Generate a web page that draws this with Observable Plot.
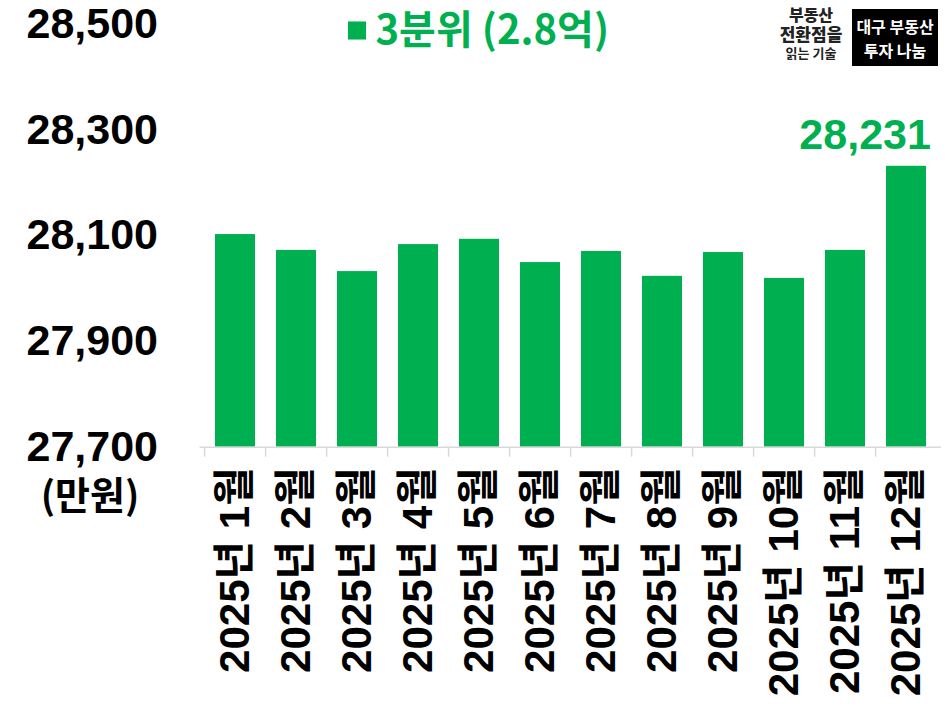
<!DOCTYPE html>
<html>
<head>
<meta charset="utf-8">
<script src="https://cdn.jsdelivr.net/npm/d3@7"></script>
<script src="https://cdn.jsdelivr.net/npm/@observablehq/plot@0.6"></script>
<style>
  html, body { margin: 0; padding: 0; background: #fff; }
  #wrap { position: relative; width: 951px; height: 712px; }
  #logo1 { position: absolute; left: 766px; top: 5px; width: 90px; text-align: center;
           font-family: "Noto Sans CJK KR", sans-serif; font-weight: 900; color: #222; }
  #logo1 div { height: 19px; line-height: 19px; white-space: nowrap; }
  #logo2 { position: absolute; left: 852px; top: 9px; width: 86px; height: 57px; background: #000; color: #fff;
           font-family: "Noto Sans CJK KR", sans-serif; font-weight: 700; font-size: 16px; text-align: center;
           display: flex; flex-direction: column; justify-content: center; }
  #logo2 div { height: 24px; line-height: 24px; white-space: nowrap; }
</style>
</head>
<body>
<div id="wrap"></div>
<script>
const months = ["2025년 1월","2025년 2월","2025년 3월","2025년 4월","2025년 5월","2025년 6월",
                "2025년 7월","2025년 8월","2025년 9월","2025년 10월","2025년 11월","2025년 12월"];
const values = [28102, 28072, 28032, 28083, 28093, 28049, 28070, 28023, 28068, 28019, 28072, 28231];
const yTicks = [27700, 27900, 28100, 28300, 28500];
const seriesName = "3분위 (2.8억)";
const unitLabel = "(만원)";
const green = "#00b050";

const data = months.map((m, i) => ({month: m, value: values[i]}));
const last = [data[data.length - 1]];

const W = 951, H = 712;
const mL = 199.5, mR = 10, mT = 23.5, mB = 265.3;
const step = (W - mL - mR) / months.length;
const fmt = d3.format(",");
const font = '"Liberation Sans", "Noto Sans CJK KR", sans-serif';
const cjk = '"Noto Sans CJK KR", sans-serif';

const chart = Plot.plot({
  width: W, height: H,
  marginLeft: mL, marginRight: mR, marginTop: mT, marginBottom: mB,
  style: {fontFamily: font, background: "#fff", color: "#000", overflow: "visible"},
  x: {domain: months, paddingInner: 0.34, paddingOuter: 0.17, label: null},
  y: {domain: [yTicks[0], yTicks[yTicks.length - 1]], label: null},
  marks: [
    Plot.barY(data, {x: "month", y1: yTicks[0], y2: "value", fill: green}),
    Plot.ruleY([yTicks[0]], {stroke: "#d9d9d9", strokeWidth: 1.5}),
    Plot.ruleX(months, {x: d => d, y1: yTicks[0], y2: yTicks[0], dx: -step / 2, insetBottom: -10, stroke: "#d9d9d9", strokeWidth: 1.5}),
    Plot.axisX({tickSize: 0, tickPadding: 20, tickRotate: -90, fontSize: 42, fontWeight: "bold", fill: "#000", label: null}),
    Plot.axisY({ticks: yTicks, tickFormat: fmt, tickSize: 0, tickPadding: 42, fontSize: 43, fontWeight: "bold", fill: "#000", label: null}),
    Plot.text(last, {x: "month", y: "value", text: d => fmt(d.value), textAnchor: "end", lineAnchor: "bottom",
                     dx: step * 0.33 + 4, dy: -17, fill: green, fontSize: 43, fontWeight: "bold"}),
    Plot.text([unitLabel], {frameAnchor: "bottom-left", textAnchor: "middle", lineAnchor: "bottom", dx: -110, dy: 62, fontSize: 38, fontWeight: "bold",
                            fill: "#000", fontFamily: cjk}),
    // legend (series swatch + name) overlaid at top
    Plot.dot([seriesName], {frameAnchor: "top-left", dx: 356.5 - mL, dy: 30 - mT, symbol: "square", r: 10.2, fill: green, stroke: null}),
    Plot.text([seriesName], {frameAnchor: "top-left", textAnchor: "start", lineAnchor: "bottom", dx: 375 - mL, dy: 43 - mT,
                             fontSize: 40, fontWeight: "bold", fill: green, fontFamily: cjk})
  ]
});

const wrap = document.getElementById("wrap");
wrap.appendChild(chart);

const logo1 = document.createElement("div");
logo1.id = "logo1";
logo1.innerHTML = `<div style="font-size:16px">부동산</div><div style="font-size:17px">전환점을</div><div style="font-size:13px;font-weight:700">읽는 기술</div>`;
wrap.appendChild(logo1);

const logo2 = document.createElement("div");
logo2.id = "logo2";
logo2.innerHTML = `<div>대구 부동산</div><div>투자 나눔</div>`;
wrap.appendChild(logo2);
</script>
</body>
</html>
